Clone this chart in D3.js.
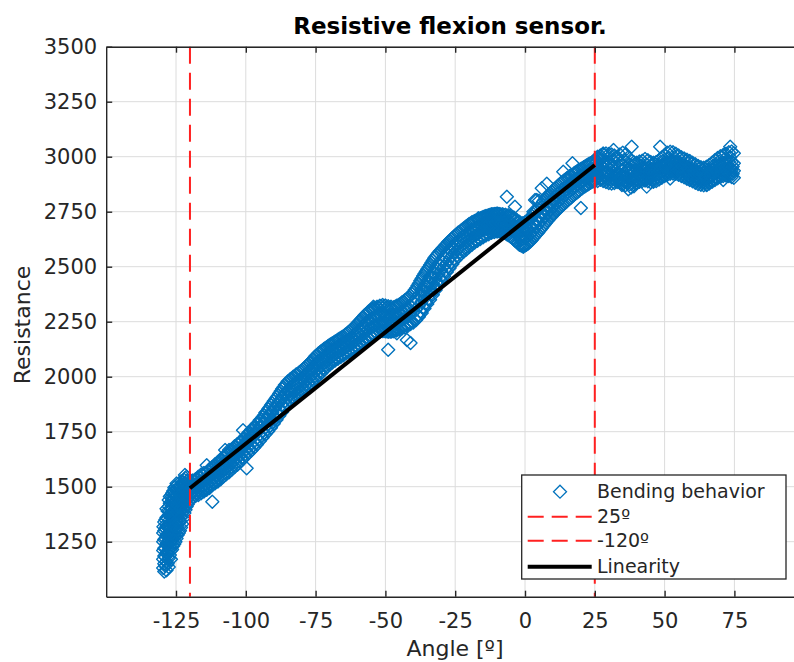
<!DOCTYPE html>
<html>
<head>
<meta charset="utf-8">
<script src="https://cdn.jsdelivr.net/npm/d3@7"></script>
<style>
body { margin: 0; background: #fff; }
svg { display: block; font-family: "DejaVu Sans", sans-serif; }
</style>
</head>
<body>
<svg id="chart" width="794" height="662"></svg>
<script>
// tick values shown on the axes
var xTicks = [-125, -100, -75, -50, -25, 0, 25, 50, 75];
var yTicks = [1250, 1500, 1750, 2000, 2250, 2500, 2750, 3000, 3250, 3500];

// vertical limit lines and the linear fit
var limitAngles = [25, -120];
var linearity = [[-120, 1493], [25, 2962]];
var legendLabels = ["Bending behavior", "25º", "-120º", "Linearity"];

// bending behaviour: [angle, resistance readings at that angle ...]
var bending = [
  [-129.2, 1115, 1150, 1185, 1220, 1260, 1300, 1340],
  [-128.4, 1120, 1160, 1200, 1240, 1280, 1320, 1360, 1400],
  [-127.6, 1135, 1175, 1215, 1255, 1290, 1330, 1370, 1410, 1440],
  [-126.8, 1170, 1210, 1250, 1290, 1330, 1370, 1400, 1430, 1460],
  [-126.0, 1230, 1265, 1300, 1340, 1380, 1420, 1450, 1480],
  [-125.2, 1250, 1290, 1330, 1370, 1410, 1440, 1470, 1500],
  [-124.4, 1280, 1320, 1360, 1400, 1430, 1460, 1490],
  [-123.6, 1300, 1345, 1390, 1420, 1450, 1480, 1505],
  [-122.8, 1330, 1380, 1420, 1450, 1480, 1510],
  [-122.0, 1380, 1420, 1450, 1480, 1510, 1530],
  [-121.2, 1410, 1440, 1465, 1495, 1525, 1545],
  [-120.4, 1430, 1455, 1480, 1505, 1520],
  [-119, 1452, 1478, 1503, 1528],
  [-118, 1458, 1486, 1510, 1534],
  [-117, 1462, 1490, 1518, 1545],
  [-116, 1470, 1497, 1524, 1556],
  [-115, 1478, 1506, 1533, 1562],
  [-114, 1486, 1512, 1542, 1598],
  [-113, 1494, 1522, 1551, 1580],
  [-112, 1432, 1508, 1532, 1590],
  [-111, 1516, 1542, 1570, 1602],
  [-110, 1524, 1552, 1584, 1612],
  [-109, 1534, 1563, 1594, 1625],
  [-108, 1546, 1574, 1604, 1636],
  [-107, 1556, 1585, 1614, 1648],
  [-106, 1566, 1594, 1626, 1667],
  [-105, 1578, 1606, 1638, 1670],
  [-104, 1590, 1618, 1650, 1684],
  [-103, 1600, 1632, 1662, 1694],
  [-102, 1612, 1642, 1674, 1706],
  [-101, 1626, 1656, 1688, 1757],
  [-100, 1640, 1668, 1700, 1732],
  [-99, 1652, 1682, 1714, 1746],
  [-98, 1664, 1694, 1726, 1760],
  [-97, 1678, 1708, 1740, 1772],
  [-96, 1692, 1722, 1754, 1786],
  [-95, 1708, 1738, 1770, 1802],
  [-94, 1722, 1754, 1786, 1816],
  [-93, 1738, 1770, 1806, 1836],
  [-92, 1752, 1786, 1822, 1852],
  [-91, 1768, 1802, 1838, 1870],
  [-90, 1786, 1820, 1856, 1888],
  [-89, 1804, 1838, 1872, 1906],
  [-88, 1822, 1856, 1890, 1924],
  [-87, 1840, 1874, 1908, 1944],
  [-86, 1858, 1890, 1924, 1962],
  [-85, 1874, 1906, 1940, 1978],
  [-84, 1888, 1918, 1952, 1990],
  [-83, 1900, 1930, 1964, 2000],
  [-82, 1910, 1940, 1974, 2010],
  [-81, 1922, 1950, 1984, 2018],
  [-80, 1934, 1962, 1994, 2028],
  [-79, 1944, 1974, 2006, 2040],
  [-78, 1956, 1986, 2018, 2052],
  [-77, 1968, 1998, 2030, 2064],
  [-76, 1980, 2010, 2044, 2078],
  [-75, 1992, 2024, 2058, 2094],
  [-74, 2004, 2036, 2070, 2106],
  [-73, 2016, 2048, 2082, 2116],
  [-72, 2030, 2060, 2092, 2126],
  [-71, 2042, 2072, 2102, 2134],
  [-70, 2054, 2082, 2112, 2144],
  [-69, 2064, 2092, 2122, 2152],
  [-68, 2074, 2102, 2130, 2160],
  [-67, 2082, 2110, 2138, 2168],
  [-66, 2090, 2118, 2146, 2176],
  [-65, 2098, 2126, 2154, 2184],
  [-64, 2106, 2134, 2162, 2194],
  [-63, 2112, 2142, 2172, 2204],
  [-62, 2120, 2150, 2182, 2216],
  [-61, 2128, 2160, 2194, 2228],
  [-60, 2136, 2170, 2206, 2242],
  [-59, 2144, 2180, 2218, 2256],
  [-58, 2154, 2192, 2232, 2270],
  [-57, 2164, 2204, 2244, 2284],
  [-56, 2174, 2214, 2256, 2296],
  [-55, 2184, 2224, 2264, 2306],
  [-54, 2192, 2232, 2272, 2314],
  [-53, 2198, 2238, 2278, 2318],
  [-52, 2204, 2242, 2282, 2322],
  [-51, 2208, 2246, 2286, 2326],
  [-50, 2206, 2244, 2284, 2324],
  [-49, 2122, 2204, 2262, 2320],
  [-48, 2204, 2242, 2282, 2318],
  [-47, 2206, 2244, 2282, 2316],
  [-46, 2210, 2248, 2286, 2322],
  [-45, 2214, 2252, 2290, 2328],
  [-44, 2220, 2258, 2298, 2338],
  [-43, 2224, 2264, 2306, 2348],
  [-42, 2230, 2272, 2316, 2358],
  [-41, 2153, 2240, 2290, 2368],
  [-40, 2246, 2292, 2340, 2384],
  [-39, 2258, 2306, 2356, 2402],
  [-38, 2272, 2322, 2374, 2424],
  [-37, 2290, 2342, 2396, 2446],
  [-36, 2310, 2362, 2416, 2468],
  [-35, 2330, 2382, 2436, 2488],
  [-34, 2350, 2402, 2456, 2508],
  [-33, 2372, 2424, 2476, 2528],
  [-32, 2394, 2444, 2496, 2546],
  [-31, 2416, 2466, 2514, 2562],
  [-30, 2436, 2484, 2530, 2576],
  [-29, 2456, 2502, 2546, 2590],
  [-28, 2476, 2518, 2562, 2604],
  [-27, 2494, 2536, 2578, 2618],
  [-26, 2512, 2552, 2592, 2630],
  [-25, 2530, 2568, 2606, 2642],
  [-24, 2544, 2580, 2618, 2654],
  [-23, 2556, 2592, 2628, 2664],
  [-22, 2568, 2604, 2640, 2674],
  [-21, 2578, 2614, 2650, 2684],
  [-20, 2590, 2624, 2660, 2694],
  [-19, 2600, 2634, 2668, 2702],
  [-18, 2610, 2642, 2676, 2708],
  [-17, 2618, 2650, 2682, 2714],
  [-16, 2626, 2658, 2690, 2720],
  [-15, 2634, 2664, 2696, 2726],
  [-14, 2642, 2672, 2702, 2730],
  [-13, 2648, 2676, 2706, 2734],
  [-12, 2654, 2682, 2710, 2738],
  [-11, 2658, 2686, 2714, 2740],
  [-10, 2660, 2688, 2716, 2742],
  [-9, 2660, 2688, 2714, 2740],
  [-8, 2656, 2684, 2712, 2738],
  [-7, 2652, 2680, 2708, 2736],
  [-6, 2644, 2674, 2704, 2734],
  [-5, 2636, 2668, 2700, 2732],
  [-4, 2624, 2656, 2690, 2724],
  [-3, 2612, 2646, 2680, 2714],
  [-2, 2600, 2634, 2668, 2704],
  [-1, 2594, 2628, 2662, 2698],
  [0, 2596, 2630, 2666, 2702],
  [1, 2604, 2638, 2674, 2710],
  [2, 2616, 2650, 2686, 2722],
  [3, 2630, 2664, 2700, 2738],
  [4, 2646, 2680, 2716, 2754],
  [5, 2660, 2696, 2732, 2800],
  [6, 2676, 2712, 2750, 2857],
  [7, 2692, 2728, 2766, 2804],
  [8, 2708, 2744, 2780, 2818],
  [9, 2722, 2758, 2794, 2832],
  [10, 2736, 2772, 2808, 2846],
  [11, 2750, 2786, 2822, 2858],
  [12, 2762, 2798, 2834, 2870],
  [13, 2774, 2810, 2846, 2882],
  [14, 2786, 2822, 2858, 2892],
  [15, 2798, 2834, 2868, 2902],
  [16, 2810, 2844, 2878, 2912],
  [17, 2820, 2854, 2888, 2970],
  [18, 2832, 2864, 2896, 2928],
  [19, 2842, 2874, 2906, 2936],
  [20, 2767, 2884, 2914, 2944],
  [21, 2862, 2892, 2922, 2952],
  [22, 2870, 2900, 2930, 2960],
  [23, 2878, 2908, 2938, 2968],
  [24, 2886, 2914, 2944, 2974],
  [25, 2890, 2920, 2950, 2980],
  [26, 2890, 2925, 2960, 3000],
  [27, 2895, 2930, 2965, 3005],
  [28, 2890, 2928, 2966, 3010],
  [29, 2885, 2925, 2965, 3015],
  [30, 2880, 2922, 2962, 3012],
  [31, 2878, 2918, 2960, 3010],
  [32, 2880, 2916, 2956, 3005],
  [33, 2885, 2918, 2954, 3000],
  [34, 2882, 2920, 2958, 3010],
  [35, 2876, 2916, 2956, 3018],
  [36, 2870, 2910, 2950, 3010],
  [37, 2852, 2900, 2944, 2998],
  [38, 2860, 2898, 2940, 2985],
  [39, 2866, 2902, 2936, 2975],
  [40, 2880, 2910, 2940, 2972],
  [41, 2886, 2914, 2944, 2978],
  [42, 2890, 2918, 2948, 2982],
  [43, 2892, 2920, 2950, 2990],
  [44, 2888, 2918, 2948, 2984],
  [45, 2884, 2914, 2944, 2976],
  [46, 2886, 2914, 2942, 2972],
  [47, 2890, 2918, 2946, 2976],
  [48, 2896, 2924, 2952, 2984],
  [49, 2904, 2932, 2960, 2996],
  [50, 2912, 2940, 2968, 3008],
  [51, 2918, 2946, 2974, 3018],
  [52, 2922, 2950, 2978, 3022],
  [53, 2924, 2952, 2980, 3020],
  [54, 2922, 2950, 2978, 3014],
  [55, 2918, 2946, 2974, 3006],
  [56, 2912, 2940, 2968, 2998],
  [57, 2906, 2934, 2962, 2992],
  [58, 2900, 2928, 2956, 2986],
  [59, 2894, 2922, 2950, 2980],
  [60, 2888, 2916, 2944, 2972],
  [61, 2882, 2910, 2938, 2966],
  [62, 2876, 2904, 2930, 2958],
  [63, 2872, 2898, 2924, 2952],
  [64, 2870, 2896, 2922, 2950],
  [65, 2872, 2898, 2926, 2954],
  [66, 2878, 2904, 2932, 2962],
  [67, 2886, 2912, 2942, 2972],
  [68, 2894, 2922, 2952, 2984],
  [69, 2902, 2930, 2960, 2994],
  [70, 2908, 2936, 2966, 3002],
  [71, 2912, 2940, 2972, 3008],
  [72, 2914, 2944, 2976, 3014],
  [73, 2912, 2944, 2978, 3020],
  [74, 2908, 2940, 2976, 3024],
  [74.8, 2904, 2936, 2970, 3016]
];

// further readings taken between the angles above
var bendingHalf = [
  [-129.6, 1130, 1170, 1210, 1250, 1290],
  [-128.8, 1140, 1180, 1220, 1265, 1310, 1350],
  [-128.0, 1150, 1195, 1235, 1275, 1315, 1355, 1390],
  [-127.2, 1190, 1230, 1270, 1310, 1350, 1390, 1425, 1455],
  [-126.4, 1215, 1255, 1290, 1325, 1360, 1400, 1440, 1470],
  [-125.6, 1240, 1280, 1320, 1360, 1395, 1430, 1465, 1495],
  [-124.8, 1265, 1305, 1345, 1385, 1420, 1455, 1485, 1515],
  [-124.0, 1290, 1335, 1375, 1410, 1440, 1470, 1500],
  [-123.2, 1315, 1360, 1405, 1435, 1465, 1495, 1525],
  [-122.4, 1355, 1400, 1435, 1465, 1495, 1520],
  [-121.6, 1395, 1430, 1455, 1485, 1515, 1540],
  [-120.8, 1420, 1448, 1472, 1500, 1528],
  [-119.5, 1462, 1494, 1516], [-118.5, 1466, 1500, 1526], [-117.5, 1470, 1502, 1536],
  [-116.5, 1480, 1512, 1544], [-115.5, 1486, 1520, 1552], [-114.5, 1494, 1528, 1560],
  [-113.5, 1502, 1536, 1568], [-112.5, 1512, 1546, 1578], [-111.5, 1522, 1556, 1590],
  [-110.5, 1530, 1566, 1600], [-109.5, 1540, 1578, 1612], [-108.5, 1552, 1590, 1624],
  [-107.5, 1562, 1600, 1636], [-106.5, 1572, 1610, 1648], [-105.5, 1584, 1622, 1658],
  [-104.5, 1596, 1634, 1672], [-103.5, 1606, 1646, 1684], [-102.5, 1618, 1658, 1694],
  [-101.5, 1630, 1670, 1708], [-100.5, 1644, 1684, 1720], [-99.5, 1656, 1696, 1734],
  [-98.5, 1670, 1710, 1748], [-97.5, 1684, 1724, 1760], [-96.5, 1698, 1738, 1774],
  [-95.5, 1714, 1754, 1790], [-94.5, 1730, 1770, 1806], [-93.5, 1744, 1788, 1824],
  [-92.5, 1760, 1804, 1842], [-91.5, 1776, 1820, 1860], [-90.5, 1794, 1838, 1878],
  [-89.5, 1812, 1856, 1896], [-88.5, 1830, 1872, 1914], [-87.5, 1848, 1890, 1934],
  [-86.5, 1866, 1908, 1952], [-85.5, 1880, 1922, 1968], [-84.5, 1894, 1936, 1980],
  [-83.5, 1904, 1946, 1992], [-82.5, 1916, 1956, 2002], [-81.5, 1926, 1968, 2012],
  [-80.5, 1938, 1978, 2022], [-79.5, 1950, 1990, 2034], [-78.5, 1962, 2002, 2046],
  [-77.5, 1974, 2014, 2058], [-76.5, 1986, 2028, 2070], [-75.5, 1998, 2040, 2086],
  [-74.5, 2010, 2052, 2098], [-73.5, 2022, 2064, 2110], [-72.5, 2036, 2076, 2120],
  [-71.5, 2048, 2088, 2130], [-70.5, 2058, 2098, 2140], [-69.5, 2068, 2108, 2148],
  [-68.5, 2078, 2116, 2156], [-67.5, 2086, 2124, 2164], [-66.5, 2094, 2132, 2172],
  [-65.5, 2102, 2140, 2180], [-64.5, 2110, 2148, 2190], [-63.5, 2116, 2158, 2200],
  [-62.5, 2124, 2166, 2210], [-61.5, 2132, 2176, 2222], [-60.5, 2140, 2188, 2236],
  [-59.5, 2150, 2200, 2250], [-58.5, 2160, 2212, 2264], [-57.5, 2170, 2224, 2278],
  [-56.5, 2178, 2234, 2290], [-55.5, 2188, 2244, 2300], [-54.5, 2196, 2252, 2308],
  [-53.5, 2202, 2258, 2312], [-52.5, 2206, 2262, 2316], [-51.5, 2210, 2266, 2320],
  [-50.5, 2208, 2264, 2318], [-49.5, 2206, 2262, 2316], [-48.5, 2206, 2262, 2314],
  [-47.5, 2208, 2262, 2312], [-46.5, 2212, 2266, 2318], [-45.5, 2216, 2270, 2324],
  [-44.5, 2222, 2278, 2332], [-43.5, 2228, 2286, 2342], [-42.5, 2234, 2294, 2352],
  [-41.5, 2240, 2302, 2362], [-40.5, 2250, 2314, 2376], [-39.5, 2262, 2330, 2394],
  [-38.5, 2278, 2346, 2414], [-37.5, 2296, 2366, 2436], [-36.5, 2316, 2388, 2458],
  [-35.5, 2336, 2408, 2478], [-34.5, 2356, 2428, 2498], [-33.5, 2378, 2450, 2518],
  [-32.5, 2400, 2470, 2538], [-31.5, 2422, 2490, 2554], [-30.5, 2444, 2506, 2570],
  [-29.5, 2464, 2524, 2584], [-28.5, 2484, 2540, 2598], [-27.5, 2502, 2556, 2612],
  [-26.5, 2520, 2572, 2624], [-25.5, 2536, 2586, 2636], [-24.5, 2550, 2600, 2648],
  [-23.5, 2562, 2610, 2658], [-22.5, 2574, 2622, 2668], [-21.5, 2584, 2632, 2678],
  [-20.5, 2596, 2642, 2688], [-19.5, 2606, 2652, 2696], [-18.5, 2614, 2660, 2704],
  [-17.5, 2622, 2666, 2710], [-16.5, 2630, 2674, 2716], [-15.5, 2638, 2680, 2722],
  [-14.5, 2646, 2688, 2728], [-13.5, 2652, 2692, 2732], [-12.5, 2656, 2696, 2736],
  [-11.5, 2660, 2700, 2738], [-10.5, 2662, 2702, 2740], [-9.5, 2662, 2702, 2740],
  [-8.5, 2658, 2698, 2736], [-7.5, 2654, 2694, 2734], [-6.5, 2648, 2688, 2732],
  [-5.5, 2640, 2684, 2728], [-4.5, 2630, 2674, 2720], [-3.5, 2618, 2662, 2708],
  [-2.5, 2606, 2650, 2698], [-1.5, 2598, 2644, 2692], [-0.5, 2596, 2646, 2696],
  [0.5, 2600, 2654, 2706], [1.5, 2610, 2666, 2718], [2.5, 2622, 2680, 2732],
  [3.5, 2638, 2696, 2748], [4.5, 2652, 2712, 2764], [5.5, 2668, 2728, 2780],
  [6.5, 2684, 2744, 2796], [7.5, 2700, 2760, 2810], [8.5, 2714, 2774, 2824],
  [9.5, 2728, 2788, 2840], [10.5, 2742, 2802, 2852], [11.5, 2756, 2814, 2864],
  [12.5, 2768, 2826, 2876], [13.5, 2780, 2838, 2886], [14.5, 2792, 2850, 2896],
  [15.5, 2804, 2860, 2906], [16.5, 2814, 2870, 2916], [17.5, 2826, 2880, 2924],
  [18.5, 2836, 2890, 2932], [19.5, 2846, 2898, 2940], [20.5, 2856, 2906, 2948],
  [21.5, 2866, 2914, 2956], [22.5, 2874, 2922, 2964], [23.5, 2882, 2928, 2970],
  [24.5, 2888, 2934, 2976],
  [25.5, 2905, 2975], [26.5, 2910, 2985], [27.5, 2900, 2990], [28.5, 2905, 2945],
  [29.5, 2900, 2990], [30.5, 2895, 2940], [31.5, 2900, 2985], [32.5, 2890, 2935],
  [33.5, 2900, 2980], [34.5, 2895, 2940], [35.5, 2890, 2985], [36.5, 2885, 2930],
  [37.5, 2875, 2965], [38.5, 2880, 2920], [39.5, 2890, 2955], [40.5, 2895, 2925],
  [41.5, 2900, 2960], [42.5, 2905, 2935], [43.5, 2900, 2965], [44.5, 2900, 2930],
  [45.5, 2898, 2960], [46.5, 2900, 2930], [47.5, 2905, 2962], [48.5, 2910, 2940],
  [49.5, 2918, 2980], [50.5, 2925, 2955], [51.5, 2932, 2995], [52.5, 2935, 2965],
  [53.5, 2938, 2998], [54.5, 2935, 2965], [55.5, 2930, 2990], [56.5, 2925, 2955],
  [57.5, 2920, 2978], [58.5, 2912, 2942], [59.5, 2905, 2965], [60.5, 2900, 2930],
  [61.5, 2893, 2952], [62.5, 2888, 2918], [63.5, 2884, 2940], [64.5, 2884, 2910],
  [65.5, 2886, 2942], [66.5, 2890, 2918], [67.5, 2900, 2958], [68.5, 2908, 2936],
  [69.5, 2916, 2978], [70.5, 2922, 2950], [71.5, 2926, 2990], [72.5, 2928, 2960],
  [73.5, 2926, 2998], [74.4, 2922, 2955]
];

// scattered readings at the edges of the band: [angle, resistance]
var bendingEdge = [
  [-129.5, 1318], [-127.1, 1371], [-121.8, 1553], [-111.6, 1591], [-107.4, 1667],
  [-99.7, 1584], [-94.9, 1795], [-72.2, 2121], [-54.3, 2318], [-45.9, 2197],
  [-42.3, 2167], [-16.7, 2720], [-6.5, 2818], [-3.6, 2773], [-1.6, 2621],
  [-0.6, 2591], [3, 2750], [3.6, 2803], [4.2, 2803], [7.8, 2877], [13.7, 2932],
  [28, 3015], [31.7, 3030], [33.5, 2894], [34.7, 2871], [38.2, 3045], [43.6, 2864],
  [48.4, 3045], [52, 2901], [65.1, 2871], [71, 2894], [73.5, 3045]
];

var blue = "#0072bd", red = "#ff2020", axisCol = "#262626";

var svg = d3.select("#chart");
var plotLeft = 106.2, plotRight = 804.2, plotTop = 46.7, plotBottom = 596.7;

var x = d3.scaleLinear().domain([-150, 100]).range([plotLeft, plotRight]);
var y = d3.scaleLinear().domain([1000, 3500]).range([plotBottom, plotTop]);
var plain = d => String(d);

// grid
var grid = svg.append("g").attr("stroke", "#dcdcdc").attr("stroke-width", 1);
grid.selectAll("line.gx").data(xTicks).enter().append("line")
  .attr("x1", d => x(d)).attr("x2", d => x(d)).attr("y1", plotTop).attr("y2", plotBottom);
grid.selectAll("line.gy").data(yTicks).enter().append("line")
  .attr("y1", d => y(d)).attr("y2", d => y(d)).attr("x1", plotLeft).attr("x2", plotRight);

// scatter
var pts = bending.concat(bendingHalf).flatMap(r => r.slice(1).map(v => [r[0], v])).concat(bendingEdge);
var rr = 6.5;
var diamond = "M0," + (-rr) + "L" + rr + ",0L0," + rr + "L" + (-rr) + ",0Z";
svg.append("g").selectAll("path").data(pts).enter().append("path")
  .attr("d", diamond)
  .attr("transform", d => "translate(" + x(d[0]) + "," + y(d[1]) + ")")
  .attr("fill", "none").attr("stroke", blue).attr("stroke-width", 1.4)
  .attr("stroke-linejoin", "round");

// limit lines
svg.append("g").selectAll("line").data(limitAngles).enter().append("line")
  .attr("x1", d => x(d)).attr("x2", d => x(d)).attr("y1", plotTop).attr("y2", plotBottom)
  .attr("stroke", red).attr("stroke-width", 2).attr("stroke-dasharray", "17,9");

// linearity
svg.append("path").datum(linearity)
  .attr("d", d3.line().x(d => x(d[0])).y(d => y(d[1])))
  .attr("stroke", "#000").attr("stroke-width", 4).attr("fill", "none");

// axes
function styleAxis(g) {
  g.select(".domain").attr("stroke", axisCol).attr("stroke-width", 1.4);
  g.selectAll(".tick line").attr("stroke", axisCol).attr("stroke-width", 1.4);
  g.selectAll(".tick text").attr("fill", axisCol).style("font-size", "21px")
    .style("font-family", "DejaVu Sans, sans-serif");
}
svg.append("g").attr("transform", "translate(0," + plotBottom + ")")
  .call(d3.axisBottom(x).tickValues(xTicks).tickFormat(plain).tickSizeInner(-6).tickSizeOuter(0).tickPadding(16))
  .call(styleAxis);
svg.append("g").attr("transform", "translate(0," + plotTop + ")")
  .call(d3.axisTop(x).tickValues(xTicks).tickSizeInner(-6).tickSizeOuter(0).tickFormat(""))
  .call(styleAxis);
svg.append("g").attr("transform", "translate(" + plotLeft + ",0)")
  .call(d3.axisLeft(y).tickValues(yTicks).tickFormat(plain).tickSizeInner(-6).tickSizeOuter(0).tickPadding(9))
  .call(styleAxis);

// title and labels
svg.append("text").attr("x", 450).attr("y", 34).attr("text-anchor", "middle")
  .style("font-size", "23px").style("font-weight", "bold").attr("fill", "#000")
  .text("Resistive flexion sensor.");
svg.append("text").attr("x", 455).attr("y", 656).attr("text-anchor", "middle")
  .style("font-size", "22px").attr("fill", axisCol).text("Angle [º]");
svg.append("text").attr("transform", "translate(30,325) rotate(-90)").attr("text-anchor", "middle")
  .style("font-size", "22px").attr("fill", axisCol).text("Resistance");

// legend
var lg = svg.append("g");
lg.append("rect").attr("x", 521.7).attr("y", 475).attr("width", 264.3).attr("height", 104)
  .attr("fill", "#fff").attr("stroke", axisCol).attr("stroke-width", 1.3);
var rowY = [491.7, 516.7, 540.7, 566.7];
lg.append("path").attr("d", diamond).attr("transform", "translate(560," + rowY[0] + ")")
  .attr("fill", "none").attr("stroke", blue).attr("stroke-width", 1.3);
[1, 2].forEach(function(i) {
  lg.append("line").attr("x1", 527.7).attr("x2", 591.7).attr("y1", rowY[i]).attr("y2", rowY[i])
    .attr("stroke", red).attr("stroke-width", 2).attr("stroke-dasharray", "16,8");
});
lg.append("line").attr("x1", 527.7).attr("x2", 591.7).attr("y1", rowY[3]).attr("y2", rowY[3])
  .attr("stroke", "#000").attr("stroke-width", 4);
lg.selectAll("text").data(legendLabels).enter().append("text")
  .attr("x", 597).attr("y", (d, i) => rowY[i]).attr("dy", "0.35em")
  .style("font-size", "19px").attr("fill", axisCol).text(d => d);
</script>
</body>
</html>
